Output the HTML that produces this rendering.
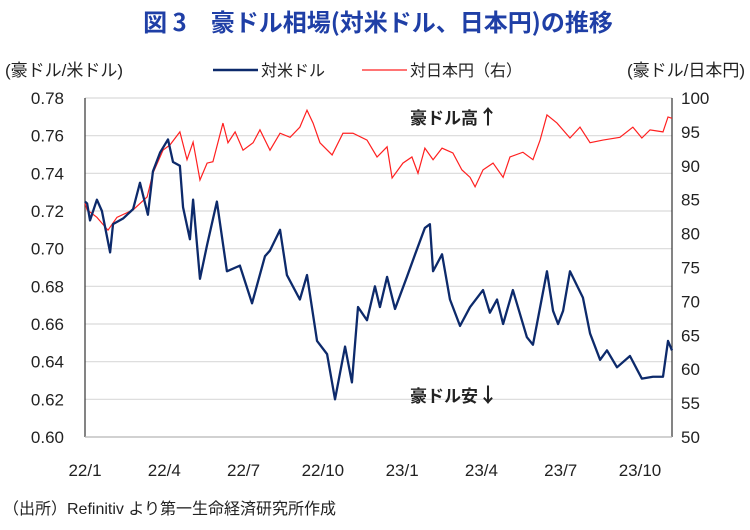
<!DOCTYPE html>
<html><head><meta charset="utf-8"><style>
body{margin:0;background:#fff;width:750px;height:525px;overflow:hidden;font-family:"Liberation Sans","Noto Sans CJK JP",sans-serif;}
</style></head><body>
<svg id="c" width="750" height="525" xmlns="http://www.w3.org/2000/svg" style="font-family:'Liberation Sans','Noto Sans CJK JP',sans-serif">
<text x="378" y="31" text-anchor="middle" font-size="24" font-weight="bold" fill="#1f3fa6" style="font-family:'Noto Sans CJK JP',sans-serif">図 3　豪ドル相場(対米ドル、日本円)の推移</text>
<text x="5" y="76" font-size="17" fill="#222">(豪ドル/米ドル)</text>
<text x="745" y="76" text-anchor="end" font-size="17" fill="#222">(豪ドル/日本円)</text>
<g>
<line x1="213" y1="70" x2="258" y2="70" stroke="#0d2a6b" stroke-width="2.5"/>
<text x="261" y="76" font-size="16" fill="#222">対米ドル</text>
<line x1="362" y1="70" x2="407" y2="70" stroke="#ff2020" stroke-width="1.3"/>
<text x="410" y="76" font-size="16" fill="#222">対日本円（右）</text>
</g>
<g id="grid"></g><g id="axes"></g><g id="series"></g>
<text x="410" y="124" font-size="17" font-weight="bold" fill="#222" style="font-family:'Noto Sans CJK JP',sans-serif">豪ドル高<tspan font-size="20">↑</tspan></text>
<text x="410" y="402" font-size="17" font-weight="bold" fill="#222" style="font-family:'Noto Sans CJK JP',sans-serif">豪ドル安<tspan font-size="20">↓</tspan></text>
<text x="3" y="514" font-size="16" fill="#222">（出所）Refinitiv より第一生命経済研究所作成</text>
</svg>
<script>
const leftTicks=[0.60,0.62,0.64,0.66,0.68,0.70,0.72,0.74,0.76,0.78];
const rightTicks=[50,55,60,65,70,75,80,85,90,95,100];
const xLabels=["22/1","22/4","22/7","22/10","23/1","23/4","23/7","23/10"];
const xLabelMonths=[0,3,6,9,12,15,18,21];
const usdT=[0,0.08,0.19,0.45,0.64,0.95,1.06,1.44,1.82,2.08,2.38,2.57,2.84,3.14,3.33,3.59,3.71,3.97,4.09,4.35,4.62,4.99,5.37,5.86,6.32,6.81,7.0,7.38,7.64,8.13,8.4,8.78,9.16,9.46,9.84,10.1,10.33,10.67,10.97,11.16,11.43,11.73,12.18,12.49,12.86,13.05,13.17,13.51,13.81,14.19,14.57,15.06,15.32,15.59,15.82,16.19,16.72,16.95,17.1,17.48,17.71,17.9,18.09,18.35,18.84,19.11,19.49,19.75,20.13,20.62,21.07,21.49,21.87,22.06,22.21];
const usdV=[0.725,0.724,0.715,0.726,0.72,0.698,0.713,0.716,0.721,0.735,0.718,0.741,0.751,0.758,0.746,0.744,0.722,0.705,0.726,0.684,0.702,0.725,0.688,0.691,0.671,0.696,0.699,0.71,0.686,0.673,0.686,0.651,0.644,0.62,0.648,0.629,0.669,0.662,0.68,0.669,0.685,0.668,0.685,0.697,0.711,0.713,0.688,0.697,0.673,0.659,0.669,0.678,0.666,0.673,0.66,0.678,0.653,0.649,0.66,0.688,0.667,0.66,0.667,0.688,0.674,0.655,0.641,0.646,0.637,0.643,0.631,0.632,0.632,0.651,0.646];
const jpyT=[0,0.08,0.45,0.87,1.21,1.82,2.35,2.57,2.95,3.22,3.59,3.86,4.09,4.35,4.62,4.84,5.22,5.41,5.68,5.98,6.36,6.62,7.0,7.38,7.76,8.13,8.4,8.63,8.89,9.35,9.76,10.14,10.67,11.05,11.43,11.62,12.03,12.37,12.6,12.86,13.17,13.51,13.92,14.26,14.57,14.76,15.06,15.44,15.82,16.08,16.57,16.95,17.22,17.48,17.86,18.35,18.73,19.11,19.6,20.24,20.73,21.07,21.38,21.87,22.06,22.21];
const jpyV=[84.5,83.5,82.4,80.5,82.4,83.5,85.4,88.9,92.3,93.1,95,90.9,93.5,87.9,90.4,90.6,96.3,93.4,95,92.3,93.4,95.3,92.3,94.8,94.2,95.7,98.2,96.3,93.4,91.6,94.8,94.8,93.8,91.3,92.8,88.2,90.4,91.3,88.9,92.6,90.9,92.6,91.9,89.4,88.3,86.9,89.4,90.4,88.3,91.3,92,90.9,93.8,97.5,96.3,94.1,95.7,93.4,93.8,94.2,95.7,94.1,95.3,95,97.2,97];
const NS="http://www.w3.org/2000/svg";
const X0=85,X1=672,Y0=437,Y1=98,PXM=(640-85)/21;
const xs=t=>X0+t*PXM;
const yl=v=>Y0-(v-0.60)/(0.18)*(Y0-Y1);
const yr=v=>Y0-(v-50)/50*(Y0-Y1);
function mk(tag,attrs,parent){const e=document.createElementNS(NS,tag);for(const k in attrs)e.setAttribute(k,attrs[k]);parent.appendChild(e);return e;}
const grid=document.getElementById('grid'),axes=document.getElementById('axes'),ser=document.getElementById('series');
leftTicks.forEach(v=>{
 const g=mk('line',{x1:X0,x2:X1,y1:yl(v),y2:yl(v),stroke:'#d9d9d9','stroke-width':1.2},grid);
 
 
 const t=mk('text',{x:64,y:yl(v)+6,'text-anchor':'end','font-size':17,fill:'#222'},axes);
 t.textContent=v.toFixed(2);
 
 
});
rightTicks.forEach(v=>{
 const t=mk('text',{x:681,y:yr(v)+6,'font-size':17,fill:'#222'},axes);
 t.textContent=v;
 
 
});
xLabels.forEach((s,i)=>{
 const t=mk('text',{x:xs(xLabelMonths[i]),y:476,'text-anchor':'middle','font-size':17,fill:'#222'},axes);
 t.textContent=s;
 
 
});
const la=mk('line',{x1:X0,x2:X0,y1:Y1,y2:Y0,stroke:'#333','stroke-width':1.2},axes);


const ra=mk('line',{x1:X1,x2:X1,y1:Y1,y2:Y0,stroke:'#333','stroke-width':1.2},axes);


const ba=mk('line',{x1:X0,x2:X1,y1:Y0,y2:Y0,stroke:'#bbb','stroke-width':1.2},axes);


const pj=mk('polyline',{points:jpyT.map((t,i)=>xs(t)+','+yr(jpyV[i])).join(' '),fill:'none',stroke:'#ff2020','stroke-width':1.2},ser);


const pu=mk('polyline',{points:usdT.map((t,i)=>xs(t)+','+yl(usdV[i])).join(' '),fill:'none',stroke:'#0d2a6b','stroke-width':2.3,'stroke-linejoin':'round'},ser);


</script>
</body></html>
